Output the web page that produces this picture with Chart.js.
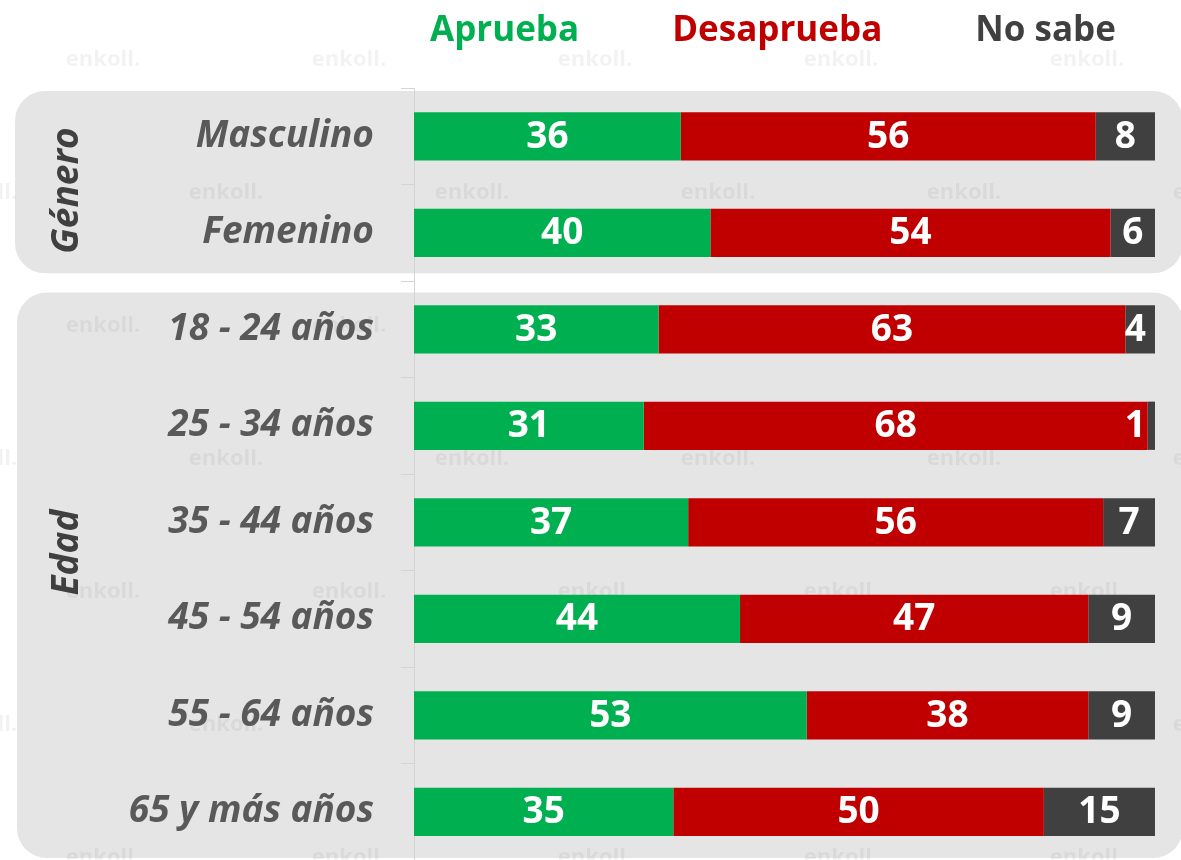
<!DOCTYPE html>
<html lang="es">
<head>
<meta charset="utf-8">
<title>Aprobación por género y edad</title>
<script src="https://cdn.jsdelivr.net/npm/chart.js@4.4.1/dist/chart.umd.min.js"></script>
<style>
  html, body { margin: 0; padding: 0; background: #ffffff; overflow: hidden; }
  #wrap { width: 1181px; height: 860px; position: relative; }
</style>
</head>
<body>
<div id="wrap"><canvas id="chartApproval" width="1181" height="860"></canvas></div>
<script>
// ─── DATA ─────────────────────
const categories = ["Masculino", "Femenino", "18 - 24 años", "25 - 34 años", "35 - 44 años", "45 - 54 años", "55 - 64 años", "65 y más años"];
const aprueba = [36, 40, 33, 31, 37, 44, 53, 35];
const desaprueba = [56, 54, 63, 68, 56, 47, 38, 50];
const noSabe = [8, 6, 4, 1, 7, 9, 9, 15];
const seriesNames = ["Aprueba", "Desaprueba", "No sabe"];
const groupNames = ["Género", "Edad"];
const groupFirst = [0, 2];
const groupLast = [1, 7];

(function () {
  const green = "#00b050";
  const red = "#c00000";
  const dark = "#404040";
  const panelColor = "#e5e5e5";
  const axisColor = "#d4d4d4";
  const fontFamily = "'Open Sans', 'DejaVu Sans', sans-serif";

  // rounded grey boxes behind each group + rotated group names
  const groupPanels = {
    id: "groupPanels",
    beforeDatasetsDraw(chart) {
      const { ctx } = chart;
      const y = chart.scales.y;
      const step = y.getPixelForValue(1) - y.getPixelForValue(0);
      const topPad = [0.47, 0.38];
      const bottomPad = [0.42, 0.48];
      const labelShift = [6, -18];
      ctx.save();
      groupNames.forEach((name, g) => {
        const top = y.getPixelForValue(groupFirst[g]) - step * topPad[g];
        const bottom = y.getPixelForValue(groupLast[g]) + step * bottomPad[g];
        const left = g === 0 ? 15 : 17;
        const right = chart.width + 2;
        ctx.fillStyle = panelColor;
        ctx.beginPath();
        ctx.roundRect(left, top, right - left, bottom - top, 30);
        ctx.fill();
      });

      // faint "enkoll." watermark, staggered rows
      ctx.font = "700 22px " + fontFamily;
      ctx.fillStyle = "rgba(0,0,0,0.05)";
      ctx.textAlign = "center";
      ctx.textBaseline = "middle";
      for (let row = 0; row < 7; row++) {
        const wy = 60 + row * 133;
        const offset = row % 2 === 0 ? 103 : -20;
        for (let col = 0; col < 6; col++) {
          ctx.fillText("enkoll.", offset + col * 246, wy);
        }
      }
      ctx.restore();

      // redraw the axis on top of the panels
      y.draw(chart.chartArea);
      ctx.save();
      ctx.fillStyle = dark;
      ctx.font = "italic 700 37px " + fontFamily;
      ctx.textAlign = "center";
      ctx.textBaseline = "middle";
      groupNames.forEach((name, g) => {
        const mid = (y.getPixelForValue(groupFirst[g]) + y.getPixelForValue(groupLast[g])) / 2 + labelShift[g];
        ctx.save();
        ctx.translate(67, mid);
        ctx.rotate(-Math.PI / 2);
        ctx.fillText(name, 0, 0);
        ctx.restore();
      });
      ctx.restore();
    }
  };

  // centred white value labels; narrow last segments get pulled inward
  const valueLabels = {
    id: "valueLabels",
    afterDatasetsDraw(chart) {
      const { ctx, chartArea } = chart;
      ctx.save();
      ctx.font = "700 37px " + fontFamily;
      ctx.fillStyle = "#ffffff";
      ctx.textAlign = "center";
      ctx.textBaseline = "middle";
      chart.data.datasets.forEach((ds, d) => {
        const meta = chart.getDatasetMeta(d);
        meta.data.forEach((bar, i) => {
          const text = String(ds.data[i]);
          const w = ctx.measureText(text).width;
          let cx = (bar.x + bar.base) / 2;
          if (cx + w / 2 > chartArea.right - 9) cx = chartArea.right - 9 - w / 2;
          ctx.fillText(text, cx, bar.y + 1);
        });
      });
      ctx.restore();
    }
  };

  // coloured series names across the top
  const topLegend = {
    id: "topLegend",
    afterDraw(chart) {
      const { ctx, chartArea } = chart;
      ctx.save();
      ctx.font = "700 35px " + fontFamily;
      ctx.textBaseline = "middle";
      ctx.textAlign = "left";
      const gap = 93;
      let x = chartArea.left + 16;
      chart.data.datasets.forEach((ds) => {
        ctx.fillStyle = ds.backgroundColor;
        ctx.fillText(ds.label, x, 31);
        x += ctx.measureText(ds.label).width + gap;
      });
      ctx.restore();
    }
  };

  function dataset(label, values, color) {
    return {
      label: label,
      data: values,
      backgroundColor: color,
      borderWidth: 0,
      categoryPercentage: 1,
      barPercentage: 0.5
    };
  }

  new Chart(document.getElementById("chartApproval"), {
    type: "bar",
    data: {
      labels: categories,
      datasets: [
        dataset(seriesNames[0], aprueba, green),
        dataset(seriesNames[1], desaprueba, red),
        dataset(seriesNames[2], noSabe, dark)
      ]
    },
    plugins: [groupPanels, valueLabels, topLegend],
    options: {
      indexAxis: "y",
      responsive: false,
      animation: false,
      layout: { padding: { top: 88, right: 26, bottom: 0, left: 0 } },
      plugins: {
        legend: { display: false },
        tooltip: { enabled: false }
      },
      scales: {
        x: {
          stacked: true,
          min: 0,
          max: 100,
          display: false
        },
        y: {
          stacked: true,
          afterFit(scale) {
            scale.width = 414;
            scale.paddingTop = 0;
            scale.paddingBottom = 0;
          },
          grid: {
            offset: true,
            drawOnChartArea: false,
            drawTicks: true,
            tickLength: 13,
            color: axisColor
          },
          border: { display: true, color: axisColor, width: 1 },
          ticks: {
            color: "#595959",
            padding: 27,
            font: { family: fontFamily, size: 37, weight: "bold", style: "italic" }
          }
        }
      }
    }
  });
})();
</script>
</body>
</html>
